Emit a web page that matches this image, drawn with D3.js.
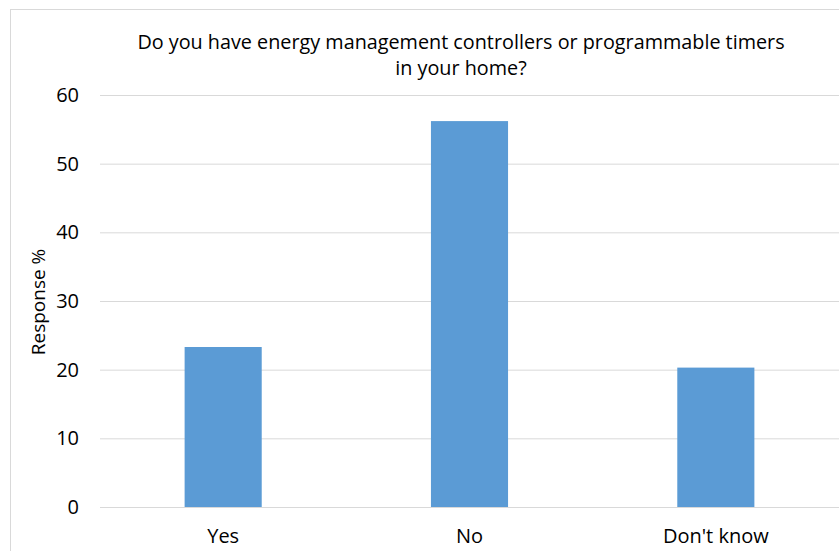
<!DOCTYPE html>
<html>
<head>
<meta charset="utf-8">
<script src="https://cdn.jsdelivr.net/npm/d3@7"></script>
<style>
  html, body { margin: 0; padding: 0; background: #fff; }
  svg { display: block; }
  svg text { font-family: "Open Sans", "Noto Sans", sans-serif; }
</style>
</head>
<body>
<svg id="chart" width="839" height="551"></svg>
<script>
// Survey answers and share of respondents (%)
const categories = ["Yes", "No", "Don't know"];
const responses = [23.3, 56.2, 20.3];
const yTicks = [0, 10, 20, 30, 40, 50, 60];
const titleLines = ["Do you have energy management controllers or programmable timers", "in your home?"];
const yTitle = "Response %";

const svg = d3.select("#chart");
const W = 839, H = 551;
const plot = { left: 100, right: 839, top: 95, bottom: 507 };

// Outer chart frame
svg.append("rect")
  .attr("x", 10.5).attr("y", 9.5)
  .attr("width", W + 20).attr("height", H + 20)
  .attr("fill", "#fff").attr("stroke", "#d9d9d9").attr("stroke-width", 1);

const x = d3.scaleBand()
  .domain(categories)
  .range([plot.left, plot.right])
  .paddingInner(0.687)
  .paddingOuter(0.3435);

const y = d3.scaleLinear()
  .domain([0, 60])
  .range([plot.bottom, plot.top]);

// Horizontal gridlines and y labels
const yAxis = d3.axisLeft(y)
  .tickValues(yTicks)
  .tickSize(-(plot.right - plot.left))
  .tickPadding(21)
  .tickFormat(d3.format("d"));

const gy = svg.append("g")
  .attr("transform", `translate(${plot.left},0)`)
  .call(yAxis);
gy.select(".domain").remove();
gy.selectAll(".tick line").attr("stroke", "#d9d9d9").attr("stroke-width", 1);
gy.selectAll(".tick text")
  .attr("fill", "#000")
  .style("font-size", "20px");

// Bars
svg.append("g").selectAll("rect")
  .data(categories.map((c, i) => ({ c, v: responses[i] })))
  .join("rect")
  .attr("x", d => x(d.c))
  .attr("y", d => y(d.v))
  .attr("width", x.bandwidth())
  .attr("height", d => y(0) - y(d.v))
  .attr("fill", "#5b9bd5");

// Category axis
const xAxis = d3.axisBottom(x).tickSize(0).tickPadding(22);
const gx = svg.append("g")
  .attr("transform", `translate(0,${plot.bottom})`)
  .call(xAxis);
gx.select(".domain").attr("stroke", "#d9d9d9");
gx.selectAll(".tick text")
  .attr("fill", "#000")
  .style("font-size", "20px");

// Title
svg.append("text")
  .attr("text-anchor", "middle")
  .attr("fill", "#000")
  .style("font-size", "19.8px")
  .selectAll("tspan")
  .data(titleLines)
  .join("tspan")
  .attr("x", 461)
  .attr("y", (d, i) => 49 + i * 26)
  .text(d => d);

// Y axis title
svg.append("text")
  .attr("transform", `translate(45,302) rotate(-90)`)
  .attr("text-anchor", "middle")
  .attr("fill", "#000")
  .style("font-size", "19px")
  .text(yTitle);
</script>
</body>
</html>
